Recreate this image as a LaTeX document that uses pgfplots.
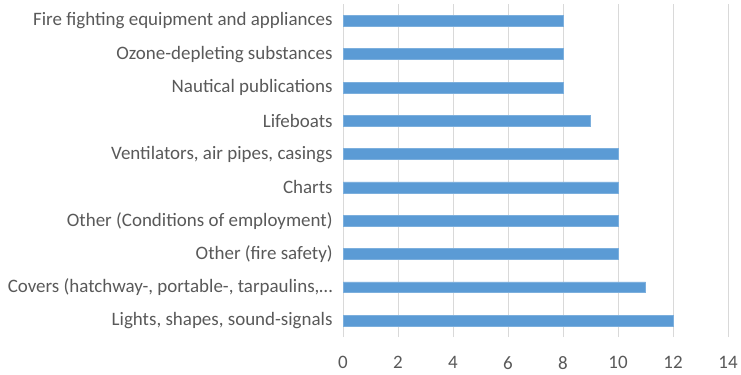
\documentclass[border=0pt]{standalone}
\usepackage{fontspec}
\setmainfont{Carlito}
\usepackage{pgfplots}
\pgfplotsset{compat=1.18}
\usetikzlibrary{calc}
\definecolor{barblue}{HTML}{5B9BD5}
\definecolor{txtgray}{HTML}{595959}
\definecolor{gridgray}{HTML}{D9D9D9}
\begin{document}
\begin{tikzpicture}
\begin{axis}[
  name=ax,
  scale only axis,
  width=385.5pt, height=333.4pt,
  xbar, bar width=11pt,
  xmin=0, xmax=14, xtick={0,2,...,14},
  ymin=-0.5, ymax=9.5, ytick={0,...,9},
  yticklabels={{Lights, shapes, sound-signals},{Covers (hatchway-, portable-, tarpaulins,…},{Other (fire safety)},{Other (Conditions of employment)},{Charts},{Ventilators, air pipes, casings},{Lifeboats},{Nautical publications},{Ozone-depleting substances},{Fire fighting equipment and appliances}},
  axis line style={draw=none},
  major tick style={draw=none},
  xmajorgrids, major grid style={gridgray, line width=1pt},
  ticklabel style={font=\fontsize{19}{23}\selectfont, text=txtgray},
  /pgf/number format/assume math mode=true,
  y tick label style={inner sep=0pt},
  x tick label style={inner sep=0pt},
  yticklabel shift=6pt,
  xticklabel shift=19pt,
  clip=false,
]
\addplot[fill=barblue, draw=barblue!80!white, line width=0.6pt] coordinates {
(12,0) (11,1) (10,2) (10,3) (10,4) (10,5) (9,6) (8,7) (8,8) (8,9)};
\end{axis}
\pgfresetboundingbox
\path ($(ax.south west)+(-343.5pt,-37pt)$) rectangle ($(ax.north east)+(13pt,4.3pt)$);
\end{tikzpicture}
\end{document}
